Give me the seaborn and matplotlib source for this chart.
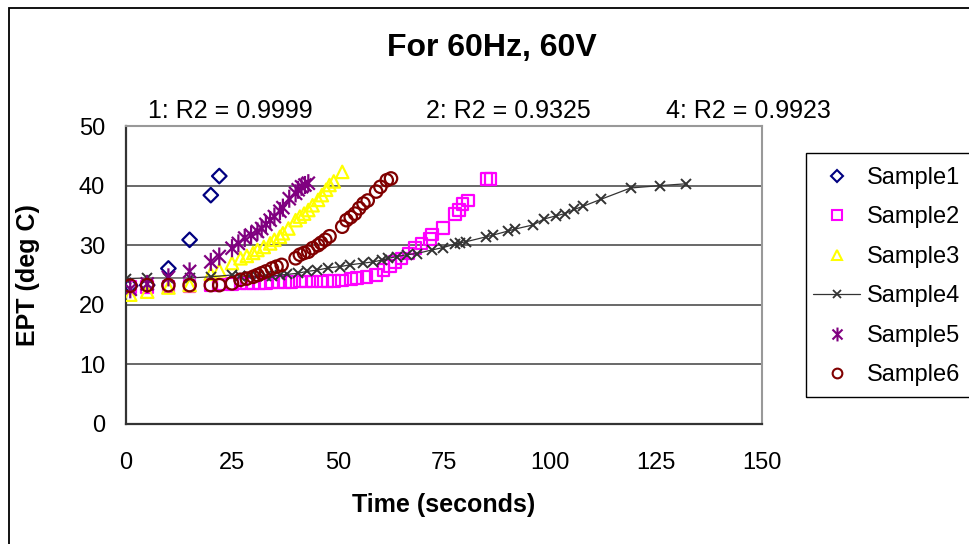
import matplotlib
matplotlib.use("Agg")
import matplotlib.pyplot as plt
from matplotlib.lines import Line2D
from matplotlib.patches import Rectangle
from matplotlib.path import Path
import pandas as pd
import seaborn as sns

# ---- data: time (s) vs. EPT (deg C) for each sample ----
t1 = [1, 5, 10, 15, 20, 22]
y1 = [23.2, 23.3, 26.1, 30.9, 38.4, 41.6]

t2 = [1, 5, 10, 15, 20, 22, 25, 27, 28.5, 30, 31.5, 33, 34.5, 36, 37.5, 39, 41, 42.5,
      44, 46, 47.5, 49, 51, 53, 54.5, 56.7, 59, 60.7, 62.3, 63.4, 65, 66.6, 68.2, 69.7,
      71.7, 72.2, 74.8, 77.6, 78.6, 79.4, 80.7, 85, 86]
y2 = [23.0, 23.0, 23.1, 23.2, 23.3, 23.4, 23.5, 23.6, 23.6, 23.7, 23.7, 23.7, 23.8, 23.8,
      23.8, 23.8, 23.9, 23.9, 23.9, 23.9, 24.0, 24.0, 24.1, 24.3, 24.5, 24.7, 25.0, 25.8,
      26.5, 27.2, 27.8, 28.6, 29.5, 30.3, 31.0, 31.8, 32.9, 35.2, 35.9, 36.9, 37.5, 41.1, 41.1]

t3 = [1, 5, 10, 15, 20, 22, 25, 27, 28.5, 30, 31, 32.5, 34, 35, 36.3, 37, 38.3, 40, 41,
      42, 43, 44, 45.3, 46.2, 47.2, 48, 49, 51]
y3 = [21.7, 22.2, 22.9, 23.3, 25.2, 25.8, 27.0, 27.8, 28.2, 28.7, 29.2, 29.7, 30.3, 30.9,
      31.4, 32.0, 32.8, 34.2, 34.8, 35.3, 35.9, 36.7, 37.6, 38.4, 39.3, 40.1, 40.7, 42.3]

t4 = [0, 5, 10, 15, 20, 25, 27, 29, 31, 33, 34.4, 36.3, 38, 40.6, 42.6, 45, 47.7, 50.5,
      52.8, 56, 58.3, 60.3, 61.9, 63.9, 66.2, 68.6, 72.1, 74.8, 77.6, 78.8, 80.3, 84.9,
      86.6, 90.2, 91.7, 96, 98.6, 101.3, 103.5, 105.7, 107.7, 112, 119, 126, 132]
y4 = [24.4, 24.5, 24.5, 24.5, 24.7, 25.0, 24.8, 24.8, 24.8, 24.8, 24.8, 25.0, 25.1, 25.3,
      25.6, 25.8, 26.2, 26.4, 26.7, 27.0, 27.2, 27.5, 27.8, 28.1, 28.4, 28.6, 29.2, 29.6,
      30.2, 30.4, 30.6, 31.4, 31.7, 32.4, 32.7, 33.4, 34.4, 34.9, 35.3, 36.0, 36.5, 37.7,
      39.6, 40.0, 40.3]

t5 = [1, 5, 10, 15, 20, 22, 25, 26.5, 28, 29.5, 31, 32, 33, 34, 35, 36.3, 37, 38.5, 40,
      40.6, 41.4, 42.2, 43]
y5 = [22.6, 23.5, 24.6, 25.6, 27.2, 28.1, 29.5, 30.3, 31.2, 31.7, 32.3, 32.8, 33.5, 34.2,
      34.8, 35.7, 36.3, 37.8, 38.7, 39.3, 39.8, 40.1, 40.4]

t6 = [1, 5, 10, 15, 20, 22, 25, 27, 28.5, 30, 31, 32, 33, 34.4, 35.5, 36.7, 40, 41, 42,
      43, 44, 45.3, 46, 47, 48, 51, 52, 53, 54, 55, 56, 57, 59, 60, 61.5, 62.5]
y6 = [23.2, 23.3, 23.3, 23.3, 23.3, 23.3, 23.6, 24.2, 24.4, 24.7, 25.0, 25.3, 25.6, 26.1,
      26.4, 26.7, 27.8, 28.4, 28.7, 28.9, 29.5, 30.0, 30.4, 30.9, 31.5, 33.1, 34.2, 34.7,
      35.3, 36.2, 37.0, 37.5, 39.0, 39.8, 40.9, 41.2]

sample_names = ["Sample1", "Sample2", "Sample3", "Sample4", "Sample5", "Sample6"]
fit_labels = ["1: R2 = 0.9999", "2: R2 = 0.9325", "4: R2 = 0.9923"]
x_ticks = [0, 25, 50, 75, 100, 125, 150]
y_ticks = [0, 10, 20, 30, 40, 50]

frames = []
for name, t, y in zip(sample_names, [t1, t2, t3, t4, t5, t6], [y1, y2, y3, y4, y5, y6]):
    frames.append(pd.DataFrame({"sample": name, "time": t, "ept": y}))
df = pd.concat(frames, ignore_index=True)

# ---- styling ----
sns.set_theme(style="white")
plt.rcParams["font.family"] = ["Liberation Sans", "DejaVu Sans"]
plt.rcParams["text.color"] = "black"

W, H = 969, 544
fig = plt.figure(figsize=(W / 100, H / 100), dpi=100)


def fx(px):
    return px / W


def fy(py):
    return 1 - py / H


ax = fig.add_axes([fx(126), fy(424), fx(762) - fx(126), fy(126) - fy(424)])

# asterisk marker: vertical bar plus a diagonal cross
asterisk = Path(
    [(0, -1), (0, 1), (-0.72, -0.72), (0.72, 0.72), (-0.72, 0.72), (0.72, -0.72)],
    [Path.MOVETO, Path.LINETO] * 3,
)

colors = {
    "Sample1": "#000080",
    "Sample2": "#FF00FF",
    "Sample3": "#FFFF00",
    "Sample4": "#333333",
    "Sample5": "#800080",
    "Sample6": "#800000",
}
markers = {"Sample1": "D", "Sample2": "s", "Sample3": "^", "Sample5": asterisk, "Sample6": "o"}
sizes = {"Sample1": 55, "Sample2": 70, "Sample3": 80, "Sample5": 170, "Sample6": 80}

for name in sample_names:
    sub = df[df["sample"] == name]
    c = colors[name]
    if name == "Sample4":
        sns.lineplot(data=sub, x="time", y="ept", sort=False, estimator=None, ax=ax,
                     color=c, lw=0.9, marker="x", markersize=7,
                     markeredgecolor=c, markeredgewidth=1.4, zorder=3)
    else:
        sns.scatterplot(data=sub, x="time", y="ept", ax=ax, marker=markers[name],
                        s=sizes[name], facecolor="none", edgecolor=c,
                        linewidth=1.6, zorder=3)

ax.set_xlim(0, 150)
ax.set_ylim(0, 50)
ax.set_xticks(x_ticks)
ax.set_yticks(y_ticks)
ax.set_xlabel("")
ax.set_ylabel("")
ax.grid(False)
for v in y_ticks[1:-1]:
    ax.axhline(v, color="#404040", lw=1.1, zorder=1)

ax.tick_params(axis="both", length=0, labelsize=17, colors="black")
ax.tick_params(axis="y", pad=15)
ax.tick_params(axis="x", pad=20)

for side in ["left", "bottom"]:
    ax.spines[side].set_color("#333333")
    ax.spines[side].set_linewidth(1.6)
for side in ["top", "right"]:
    ax.spines[side].set_color("#999999")
    ax.spines[side].set_linewidth(1.5)

# titles and axis captions
fig.text(fx(492), fy(48), "For 60Hz, 60V", ha="center", va="center",
         fontsize=23, fontweight="bold")
for xc, lab in zip([230, 508, 748], fit_labels):
    fig.text(fx(xc), fy(111), lab, ha="center", va="center", fontsize=18)
fig.text(fx(444), fy(505), "Time (seconds)", ha="center", va="center",
         fontsize=18, fontweight="bold")
fig.text(fx(28), fy(275), "EPT (deg C)", ha="center", va="center",
         fontsize=18, fontweight="bold", rotation=90)

# outer chart border
fig.patches.append(Rectangle((fx(9), fy(560)), 2, fy(8) - fy(560), transform=fig.transFigure,
                             fill=False, edgecolor="black", lw=1.3))

# legend
fig.patches.append(Rectangle((fx(806), fy(397)), 1, fy(153) - fy(397), transform=fig.transFigure,
                             fill=False, edgecolor="black", lw=1.0))
handles = []
legend_ms = {"Sample1": 6, "Sample2": 7, "Sample3": 7, "Sample5": 10, "Sample6": 7}
for name in sample_names:
    c = colors[name]
    if name == "Sample4":
        handles.append(Line2D([], [], color=c, lw=0.9, marker="x", ms=6, mew=1.3))
    else:
        handles.append(Line2D([], [], ls="none", marker=markers[name], ms=legend_ms[name],
                              mfc="none", mec=c, mew=1.5))
fig.legend(handles, sample_names, loc="upper left", bbox_to_anchor=(fx(813), fy(167)),
           frameon=False, fontsize=17, borderpad=0, borderaxespad=0,
           handlelength=2.0, handletextpad=0.3, labelspacing=0.74)

fig.savefig("out.png", dpi=100)
